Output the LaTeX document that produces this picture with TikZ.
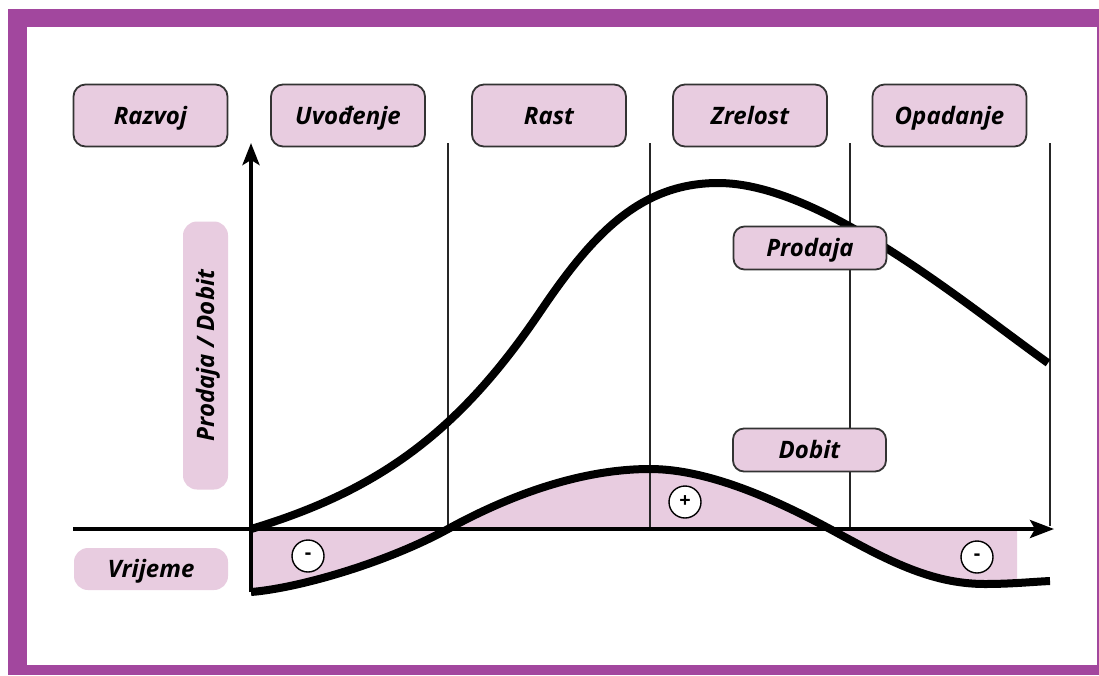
\documentclass[tikz,border=0pt]{standalone}
\usepackage{fontspec}
\setmainfont{Open Sans}
\usetikzlibrary{arrows.meta}
\definecolor{framecol}{HTML}{A2479E}
\definecolor{pinkfill}{HTML}{E8CCE0}
\definecolor{boxline}{HTML}{333333}
\begin{document}
\begin{tikzpicture}[x=1pt,y=-1pt,
  txt/.style={text height=17pt, text depth=0pt,
    font=\fontsize{24}{28}\selectfont\bfseries\itshape},
  stagebox/.style={txt, draw=boxline, line width=1.8pt, fill=pinkfill, rounded corners=12pt,
    minimum width=154pt, minimum height=62pt, inner sep=0pt},
  labelbox/.style={txt, draw=boxline, line width=1.8pt, fill=pinkfill, rounded corners=11pt,
    minimum width=153pt, minimum height=43pt, inner sep=0pt},
  axisbox/.style={txt, fill=pinkfill, rounded corners=14pt, inner sep=0pt},
  sign/.style={circle, draw=black, fill=white, line width=1.4pt, minimum size=32pt,
    inner sep=0pt, font=\fontsize{20}{20}\selectfont\bfseries},
  axisline/.style={line width=4pt, black},
  phaseline/.style={line width=2pt, black!85},
  curve/.style={line width=8pt, black},
]
\useasboundingbox (0,0) rectangle (1099,675);
% frame
\fill[framecol] (8,9) rectangle (1099,675);
\fill[white] (27,27) rectangle (1097,665);

% coordinates
\coordinate (O) at (251,529);
\coordinate (ytop) at (251,143);
\coordinate (ybot) at (251,592);
\coordinate (xl) at (73,529);
\coordinate (xr) at (1054,529);
\coordinate (t1) at (448,143); \coordinate (b1) at (448,529);
\coordinate (t2) at (650,143); \coordinate (b2) at (650,529);
\coordinate (t3) at (850,143); \coordinate (b3) at (850,529);
\coordinate (t4) at (1050,143); \coordinate (b4) at (1050,526);

% profit fill
\begin{scope}
  \clip (251,0) rectangle (1017,675);
  \fill[pinkfill] (251,590) .. controls (300,588) and (388,562) .. (448,529)
     .. controls (508,496) and (580,469) .. (650,469)
     .. controls (710,469) and (780,502) .. (830,529)
     .. controls (885,559) and (930,584) .. (985,584)
     .. controls (1010,584) and (1030,582) .. (1050,581)
     -- (1050,529) -- (251,529) -- cycle;
\end{scope}

% phase lines
\draw[phaseline] (t1) -- (b1);
\draw[phaseline] (t2) -- (b2);
\draw[phaseline] (t3) -- (b3);
\draw[phaseline] (t4) -- (b4);

% axes
\draw[axisline, -{Stealth[length=22pt,width=17pt,inset=5pt]}] (ybot) -- (ytop);
\draw[axisline, -{Stealth[length=24pt,width=18pt,inset=5pt]}] (xl) -- (xr);

% sales curve
\draw[curve] (O) .. controls (381,490) and (460,430) .. (540,312)
   .. controls (590,238) and (638,183) .. (718,183)
   .. controls (820,183) and (960,300) .. (1048,363);
% profit curve
\draw[curve] (ybot) .. controls (300,588) and (388,562) .. (448,529)
   .. controls (508,496) and (580,469) .. (650,469)
   .. controls (710,469) and (780,502) .. (830,529)
   .. controls (885,559) and (930,584) .. (985,584)
   .. controls (1010,584) and (1030,582) .. (1050,581);

% signs
\node[sign] (m1) at (308,556) {-};
\node[sign] (p1) at (685,502) {+};
\node[sign] (m2) at (977,557) {-};

% stage boxes
\node[stagebox] (razvoj) at (150.5,115.5) {Razvoj};
\node[stagebox] (uvod) at (348,115.5) {Uvođenje};
\node[stagebox] (rast) at (549,115.5) {Rast};
\node[stagebox] (zrelost) at (750,115.5) {Zrelost};
\node[stagebox] (opadanje) at (949.5,115.5) {Opadanje};

% curve labels
\node[labelbox] (prodaja) at (810,248) {Prodaja};
\node[labelbox] (dobit) at (809.5,450) {Dobit};

% axis labels
\node[axisbox, rotate=90, minimum width=268pt, minimum height=45pt] (ylab) at (205.5,355.5) {Prodaja / Dobit};
\node[axisbox, minimum width=154pt, minimum height=42pt] (xlab) at (151,569) {Vrijeme};
\end{tikzpicture}
\end{document}
